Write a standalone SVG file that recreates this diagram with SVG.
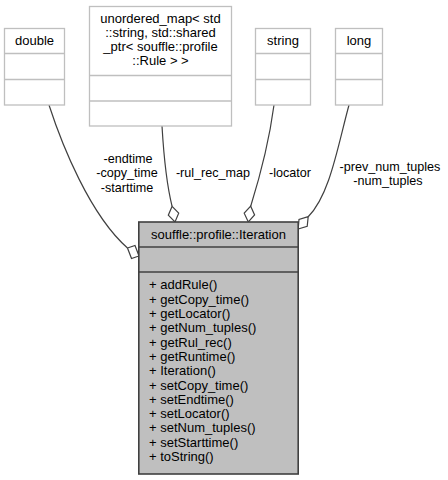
<svg xmlns="http://www.w3.org/2000/svg" width="448" height="480" viewBox="0 0 448 480">
<style>
text{font-family:"Liberation Sans",Arial,sans-serif;font-size:13px;fill:#000}
.c{text-anchor:middle}
.lbl{font-size:12.6px}
.box{fill:#fff;stroke:#bfbfbf;stroke-width:1.3}
.main{fill:#bfbfbf;stroke:#404040;stroke-width:1.6}
.div{stroke:#bfbfbf;stroke-width:1.3}
.mdiv{stroke:#404040;stroke-width:1.3}
.edge{fill:none;stroke:#404040;stroke-width:1.2}
.dia{fill:#fff;stroke:#404040;stroke-width:1.2}
</style>
<rect width="448" height="480" fill="#fff"/>
<g id="edges">
<path class="edge" d="M49,105 C62,145 90,215 127.5,248"/>
<polygon class="dia" points="127.5,248 135,245.5 139,256 131.5,258.5"/>
<path class="edge" d="M162,126 C164,160 168,190 172.1,206.3"/>
<polygon class="dia" points="172.1,206.3 178.7,213.2 175,222 168.3,215.2"/>
<path class="edge" d="M274,105 C270,135 262,170 250.7,206.2"/>
<polygon class="dia" points="250.7,206.2 254.6,215 248.3,222 244.2,213.2"/>
<path class="edge" d="M349,105 C338,145 330,195 308.2,216.7"/>
<polygon class="dia" points="308.2,216.7 307.2,226.2 298.2,229 299,219.4"/>
<text class="c lbl" x="128" y="162.5">-endtime</text>
<text class="c lbl" x="127" y="177">-copy_time</text>
<text class="c lbl" x="127" y="191.5">-starttime</text>
<text class="c lbl" x="213" y="177">-rul_rec_map</text>
<text class="c lbl" x="290" y="177">-locator</text>
<text class="c lbl" x="390" y="170.5">-prev_num_tuples</text>
<text class="c lbl" x="388" y="184.5">-num_tuples</text>
</g>
<g id="node-double">
<rect class="box" x="4.5" y="28.5" width="60" height="76.5"/>
<line class="div" x1="4.5" y1="53.5" x2="64.5" y2="53.5"/>
<line class="div" x1="4.5" y1="79.5" x2="64.5" y2="79.5"/>
<text class="c" x="34.5" y="45">double</text>
</g>
<g id="node-unordered_map">
<rect class="box" x="89.5" y="6.5" width="142" height="119.5"/>
<line class="div" x1="89.5" y1="75.5" x2="231.5" y2="75.5"/>
<line class="div" x1="89.5" y1="101" x2="231.5" y2="101"/>
<text class="c" x="160.5" y="22.5">unordered_map&lt; std</text>
<text class="c" x="160.5" y="36.8">::string, std::shared</text>
<text class="c" x="160.5" y="51">_ptr&lt; souffle::profile</text>
<text class="c" x="160.5" y="65.3">::Rule &gt; &gt;</text>
</g>
<g id="node-string">
<rect class="box" x="255.5" y="28.5" width="55" height="76.5"/>
<line class="div" x1="255.5" y1="53.5" x2="310.5" y2="53.5"/>
<line class="div" x1="255.5" y1="79.5" x2="310.5" y2="79.5"/>
<text class="c" x="283" y="45">string</text>
</g>
<g id="node-long">
<rect class="box" x="335.5" y="28.5" width="47" height="76.5"/>
<line class="div" x1="335.5" y1="53.5" x2="382.5" y2="53.5"/>
<line class="div" x1="335.5" y1="79.5" x2="382.5" y2="79.5"/>
<text class="c" x="359" y="45">long</text>
</g>
<g id="node-iteration">
<rect class="main" x="138.8" y="222" width="159.4" height="252"/>
<line class="mdiv" x1="138.8" y1="247" x2="298.2" y2="247"/>
<line class="mdiv" x1="138.8" y1="272" x2="298.2" y2="272"/>
<text class="c" x="218.5" y="238.5">souffle::profile::Iteration</text>
<text x="149" y="289.4">+ addRule()</text>
<text x="149" y="303.7">+ getCopy_time()</text>
<text x="149" y="318">+ getLocator()</text>
<text x="149" y="332.3">+ getNum_tuples()</text>
<text x="149" y="346.6">+ getRul_rec()</text>
<text x="149" y="360.9">+ getRuntime()</text>
<text x="149" y="375.2">+ Iteration()</text>
<text x="149" y="389.5">+ setCopy_time()</text>
<text x="149" y="403.8">+ setEndtime()</text>
<text x="149" y="418.1">+ setLocator()</text>
<text x="149" y="432.4">+ setNum_tuples()</text>
<text x="149" y="446.7">+ setStarttime()</text>
<text x="149" y="461">+ toString()</text>
</g>
</svg>
